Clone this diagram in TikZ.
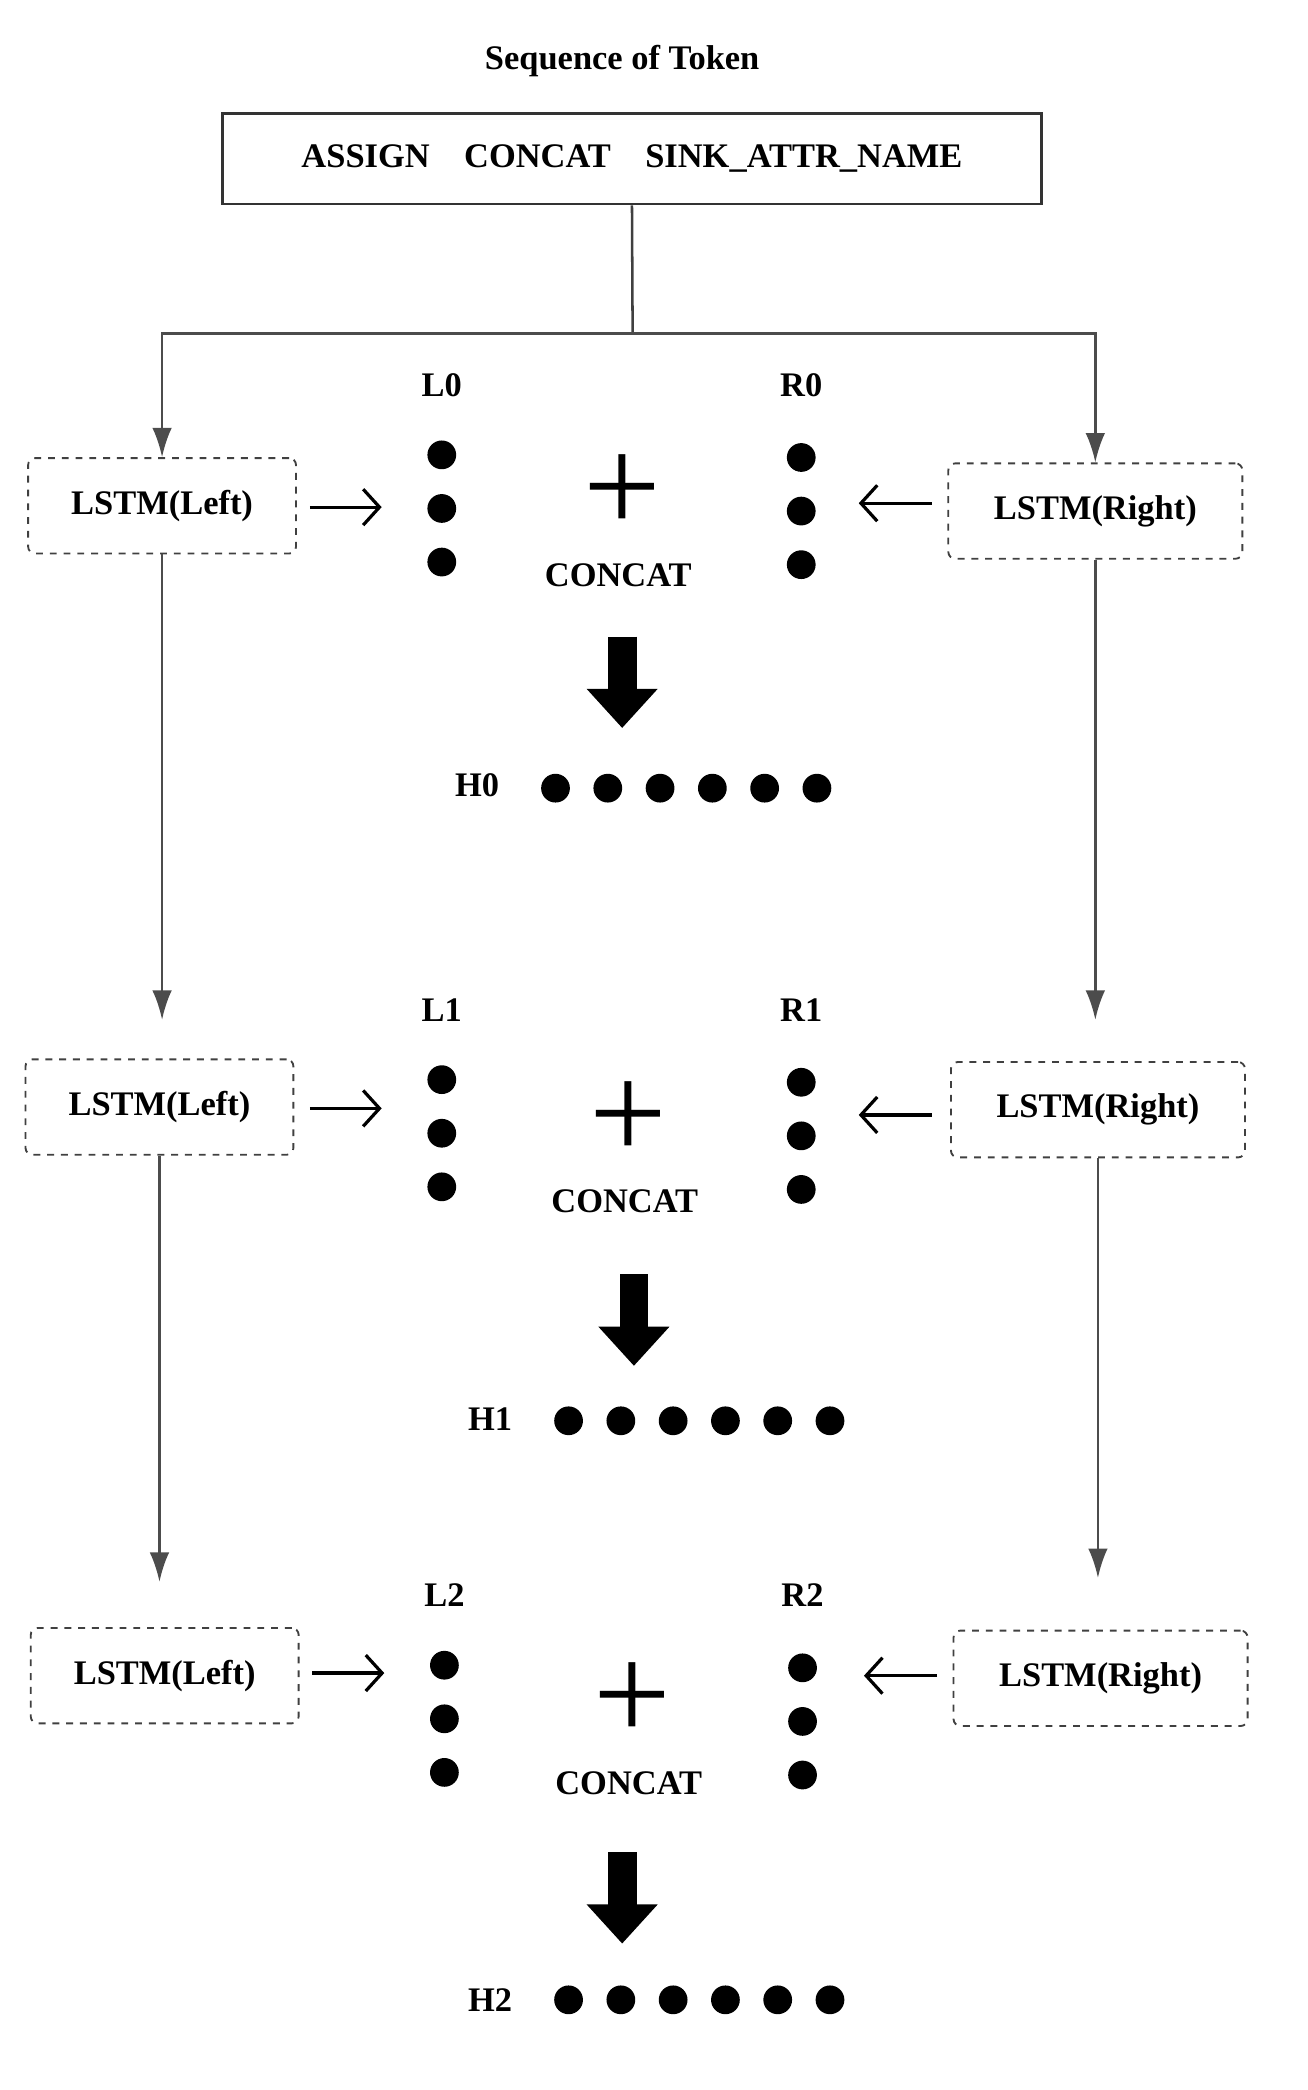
\documentclass[tikz,border=0pt]{standalone}
\usepackage{fontspec}
\setmainfont{Liberation Serif}
\usetikzlibrary{arrows.meta}

\begin{document}
\begin{tikzpicture}[
		x=0.02cm, y=-0.02cm,
		lstmnode/.style={
		% The shape:
		rectangle, rounded corners=3pt,
		% The size:
		minimum width=4.1cm, minimum height=1.46cm,
		% The border:
		dashed, thick, draw=black!75,
		% Font
		font=\fontsize{15}{18}\selectfont\bfseries
		},
		txt/.style={font=\fontsize{15}{18}\selectfont\bfseries},
		dot/.style={circle, fill=black, inner sep=0pt, minimum size=0.44cm},
		flow/.style={draw=black!70, line width=1.1pt, -{Latex[length=0.45cm,width=0.3cm]}},
		side/.style={line width=1.4pt, -{Straight Barb[length=0.25cm,width=0.55cm]}},
		big/.style={line width=0.44cm, -{Triangle[length=0.6cm,width=1.05cm]}}
	]
	\useasboundingbox (0,0) rectangle (1000,1599);

	\node (TITLE)[txt] at (476,47) {Sequence of Token};
	\node (SEQ)[draw=black!80, very thick, minimum width=12.54cm, minimum height=1.38cm,
		font=\fontsize{15}{18}\selectfont\bfseries] at (483.5,121.5) {ASSIGN\quad CONCAT\quad SINK\_ATTR\_NAME};
	\coordinate (S) at (484,255);

	% LSTM boxes
	\node (LL0)[lstmnode] at (124,387) {LSTM(Left)};
	\node (RL0)[lstmnode, minimum width=4.5cm] at (838,391) {LSTM(Right)};
	\node (LL1)[lstmnode] at (122,847) {LSTM(Left)};
	\node (RL1)[lstmnode, minimum width=4.5cm] at (840,849) {LSTM(Right)};
	\node (LL2)[lstmnode] at (126,1282) {LSTM(Left)};
	\node (RL2)[lstmnode, minimum width=4.5cm] at (842,1284) {LSTM(Right)};

	% labels
	\node (L0)[txt] at (338,295) {L0};
	\node (R0)[txt] at (613,295) {R0};
	\node (L1)[txt] at (338,773) {L1};
	\node (R1)[txt] at (613,773) {R1};
	\node (L2)[txt] at (340,1220) {L2};
	\node (R2)[txt] at (614,1220) {R2};

	% dots
	\foreach \n/\x/\y in {a/338/348, b/613/350, c/338/826, d/613/828, e/340/1274, f/614/1276}
		\foreach \i in {0,1,2}
			\node (D\n\i)[dot] at (\x,\y+41*\i) {};

	% plus and concat
	\foreach \n/\x/\y in {0/476/378, 1/481/857, 2/484/1302} {
		\node (P\n)[font=\fontsize{60}{60}\selectfont] at (\x,\y) {+};
		\node (C\n)[font=\fontsize{15}{18}\selectfont\bfseries] at (\x-3,\y+62) {CONCAT};
	}

	% hidden rows
	\node (H0)[txt] at (365,601) {H0};
	\node (H1)[txt] at (375,1086) {H1};
	\node (H2)[txt] at (375,1530) {H2};
	\foreach \i in {0,...,5} {
		\node (HA\i)[dot] at (425+40*\i,603) {};
		\node (HB\i)[dot] at (435+40*\i,1087) {};
		\node (HC\i)[dot] at (435+40*\i,1530) {};
	}

	% thick arrows
	\coordinate (T0) at (476,487); \coordinate (B0) at (476,557);
	\coordinate (T1) at (485,975); \coordinate (B1) at (485,1045);
	\coordinate (T2) at (476,1417); \coordinate (B2) at (476,1487);
	\foreach \i in {0,1,2}
		\draw[big] (T\i) -- (B\i);

	% sequence split
	\draw[draw=black!75, line width=1.1pt] (SEQ.south) -- (S);
	\draw[flow] (S) -| (LL0.north);
	\draw[flow] (S) -| (RL0.north);
	\draw[flow] (LL0.south) -- ++(0,356);
	\draw[flow] (RL0.south) -- ++(0,352);
	\draw[flow] (LL1.south) -- ++(0,326);
	\draw[flow] (RL1.south) -- ++(0,321);

	% side arrows
	\foreach \n/\a/\b/\y in {0/237/292/388, 1/237/292/848, 2/239/294/1280}
		\draw[side] (\a,\y) -- (\b,\y);
	\foreach \n/\a/\b/\y in {0/713/657/385, 1/713/657/853, 2/717/661/1282}
		\draw[side] (\a,\y) -- (\b,\y);
\end{tikzpicture}
\end{document}
